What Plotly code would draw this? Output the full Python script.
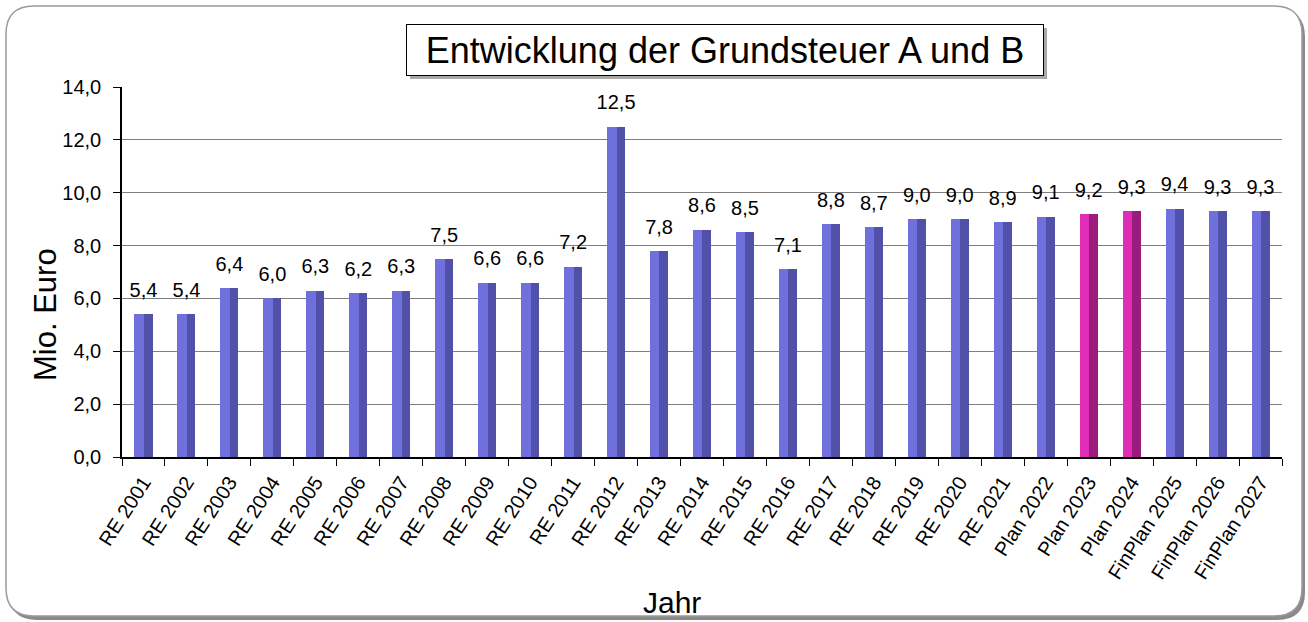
import plotly.graph_objects as go

categories = ["RE 2001", "RE 2002", "RE 2003", "RE 2004", "RE 2005", "RE 2006", "RE 2007",
              "RE 2008", "RE 2009", "RE 2010", "RE 2011", "RE 2012", "RE 2013", "RE 2014",
              "RE 2015", "RE 2016", "RE 2017", "RE 2018", "RE 2019", "RE 2020", "RE 2021",
              "Plan 2022", "Plan 2023", "Plan 2024", "FinPlan 2025", "FinPlan 2026", "FinPlan 2027"]
values = [5.4, 5.4, 6.4, 6.0, 6.3, 6.2, 6.3, 7.5, 6.6, 6.6, 7.2, 12.5, 7.8, 8.6,
          8.5, 7.1, 8.8, 8.7, 9.0, 9.0, 8.9, 9.1, 9.2, 9.3, 9.4, 9.3, 9.3]
highlighted = ["Plan 2023", "Plan 2024"]
y_ticks = [0, 2, 4, 6, 8, 10, 12, 14]

light = ["#df2db6" if c in highlighted else "#7070dc" for c in categories]
dark = ["#9c1c7e" if c in highlighted else "#5151aa" for c in categories]

W, H = 1308, 622
L, R, T, B = 122, 26, 87, 165
PW, PH = W - L - R, H - T - B

def px(x):
    return (x - L) / PW

def py(y):
    return (H - B - y) / PH

def rrect(x0, y0, x1, y1, r):
    a, b, c, d = px(x0), px(x1), py(y0), py(y1)
    rx, ry = r / PW, r / PH
    return (f"M {a+rx},{c} L {b-rx},{c} Q {b},{c} {b},{c-ry} L {b},{d+ry} Q {b},{d} {b-rx},{d} "
            f"L {a+rx},{d} Q {a},{d} {a},{d+ry} L {a},{c-ry} Q {a},{c} {a+rx},{c} Z")

def rect(x0, y0, x1, y1):
    return dict(x0=px(x0), x1=px(x1), y0=py(y1), y1=py(y0))

fig = go.Figure()
fig.add_trace(go.Bar(
    x=categories, y=values, width=0.42,
    marker=dict(color=light, line=dict(width=0)),
    hoverinfo="x+y", showlegend=False,
))
fig.add_trace(go.Bar(
    x=categories, y=values, width=0.2, offset=0.01,
    marker=dict(color=dark, line=dict(width=0)),
    hoverinfo="skip", showlegend=False,
))
fig.add_trace(go.Scatter(
    x=categories, y=values, mode="markers+text",
    marker=dict(size=18, opacity=0),
    text=[f"{v:.1f}".replace(".", ",") for v in values], textposition="top center",
    textfont=dict(family="Liberation Sans, Arial", size=20, color="black"),
    cliponaxis=False, hoverinfo="skip", showlegend=False,
))

shapes = [
    dict(type="path", xref="paper", yref="paper", path=rrect(9, 9, 1305, 620, 28),
         fillcolor="#8a8a8a", line=dict(width=0), layer="below"),
    dict(type="path", xref="paper", yref="paper", path=rrect(6, 6, 1302, 616, 28),
         fillcolor="white", line=dict(color="#9a9a9a", width=1.5), layer="below"),
    dict(type="rect", xref="paper", yref="paper", **rect(410, 28, 1047, 79),
         fillcolor="#a8a8a8", line=dict(width=0), layer="below"),
]

fig.update_layout(
    width=W, height=H,
    margin=dict(l=L, r=R, t=T, b=B),
    paper_bgcolor="white", plot_bgcolor="rgba(0,0,0,0)",
    barmode="overlay", bargap=0,
    separators=",.",
    font=dict(family="Liberation Sans, Arial", color="black"),
    shapes=shapes,
    xaxis=dict(
        type="category", range=[-0.5, len(categories) - 0.5],
        tickangle=-57, tickson="boundaries", ticks="outside", ticklen=7,
        tickcolor="black", showline=True, linecolor="black", linewidth=1.5,
        tickfont=dict(size=20), showgrid=False, ticklabelstandoff=4,
    ),
    yaxis=dict(
        range=[0, 14], tickvals=y_ticks, tickformat=".1f", ticks="outside", ticklen=7,
        tickcolor="black", showline=True, linecolor="black", linewidth=1.5,
        showgrid=True, gridcolor="#7f7f7f", gridwidth=1, tickfont=dict(size=20),
        zeroline=False, ticklabelstandoff=8,
    ),
    annotations=[
        dict(text="Entwicklung der Grundsteuer A und B", xref="paper", yref="paper",
             x=px(725), y=py(50), xanchor="center", yanchor="middle",
             showarrow=False, font=dict(size=36),
             bordercolor="black", borderwidth=1, bgcolor="white", borderpad=2,
             width=632, height=46),
        dict(text="Mio. Euro", xref="paper", yref="paper", x=px(45), y=py(315),
             xanchor="center", yanchor="middle",
             showarrow=False, textangle=-90, font=dict(size=31)),
        dict(text="Jahr", xref="paper", yref="paper", x=px(672), y=py(602),
             xanchor="center", yanchor="middle",
             showarrow=False, font=dict(size=30)),
    ],
)
fig.write_html("out.html", config={"displayModeBar": False},
               post_script="document.body.style.margin='0px';")
